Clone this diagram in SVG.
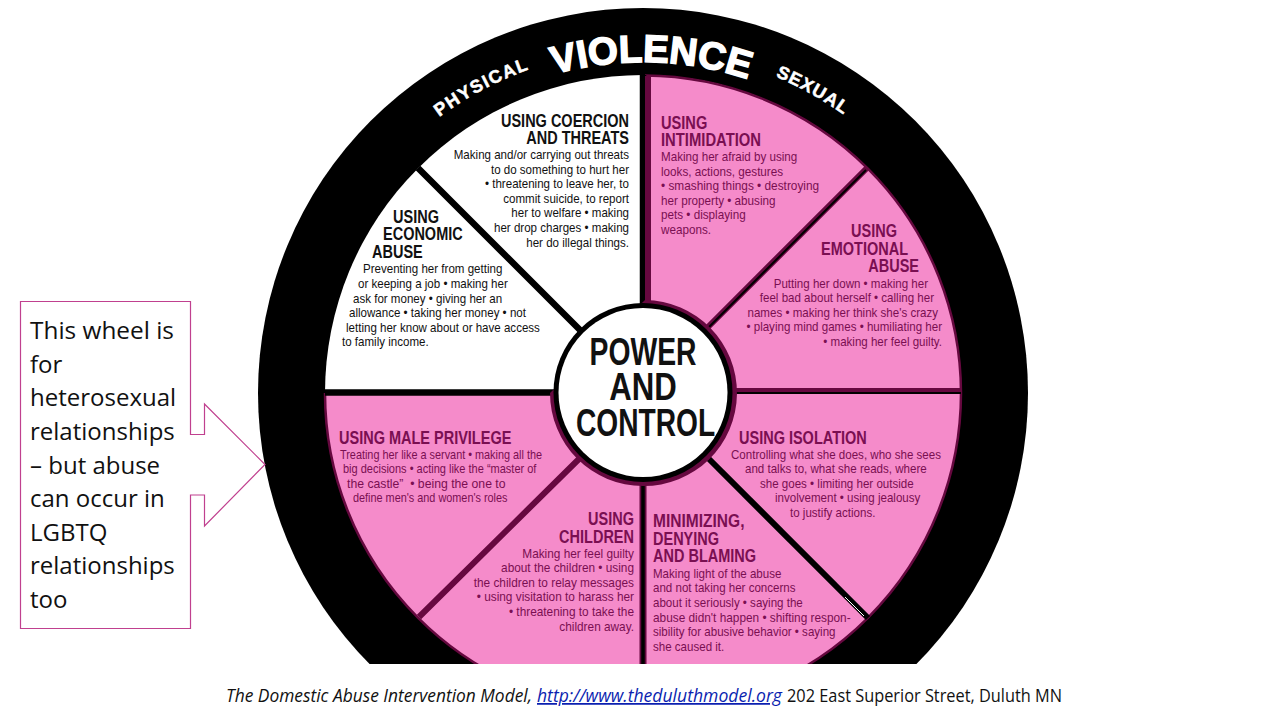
<svg xmlns="http://www.w3.org/2000/svg" width="1280" height="720" viewBox="0 0 1280 720">
<style>
.h{font-family:"Liberation Sans",Arial,sans-serif;font-weight:700;font-size:18.5px}
.b{font-family:"Liberation Sans",Arial,sans-serif;font-size:13.6px}
.p{fill:#7a0f52}.k{fill:#111}
.e{text-anchor:end}.m{text-anchor:middle}
.w{font-family:"Liberation Sans",Arial,sans-serif;font-weight:700;fill:#fff;stroke:#fff}
.c{font-family:"Open Sans","Noto Sans",sans-serif;font-size:24px;fill:#111}
.cap{font-family:"Open Sans","Noto Sans",sans-serif;font-size:17.5px;fill:#111}
.s1{stroke:#66083f;fill:none}
</style>
<defs>
<path id="arcV" d="M312 393A331 331 0 0 1 974 393"/>
<path id="arcS" d="M300 393A343 343 0 0 1 986 393"/>
</defs>
<rect width="1280" height="720" fill="#fff"/>
<g id="wheel">
<circle cx="643" cy="393" r="385" fill="#000"/>
<circle cx="643" cy="393" r="318" fill="#fff"/>
<path d="M643 393V75A318 318 0 0 1 961 393A318 318 0 0 1 643 711A318 318 0 0 1 325 393Z" fill="#f58bca"/>
<path d="M645 75.500A318 318 0 0 1 961 393A318 318 0 0 1 643 711A318 318 0 0 1 325 393" fill="none" stroke="#66083f" stroke-width="2.500"/>
<text class="w m" font-size="38.500" stroke-width="1.500"><textPath href="#arcV" startOffset="50.800%">VIOLENCE</textPath></text>
<text class="w m" font-size="18" stroke-width=".5"><textPath href="#arcS" startOffset="372" letter-spacing="1.500">PHYSICAL</textPath></text>
<text class="w m" font-size="18" stroke-width=".5"><textPath href="#arcS" startOffset="714" letter-spacing="1">SEXUAL</textPath></text>
</g>
<g id="connectors" fill="none">
<path d="M643 75V310M325 392.500H560M418 168L580 330" stroke="#000" stroke-width="6.500"/>
<path d="M648 76V306M961 391H730M867 168L705 330M419 617L582 456" class="s1" stroke-width="6"/>
<path d="M707 329L866 170M730 393H961" stroke="#000" stroke-width="2"/>
<path d="M643 480V664" stroke="#66083f" stroke-width="7"/>
<path d="M643 480V664" stroke="#000" stroke-width="3.500"/>
<path d="M706 456L868 618" stroke="#000" stroke-width="6"/>
<path d="M845 597L864 616" stroke="#fff" stroke-width="1"/>
</g>
<g id="hub">
<path d="M645 300A93 93 0 0 1 643 486A93 93 0 0 1 550 393" fill="#66083f"/>
<circle cx="643" cy="392.500" r="89.500" fill="#000"/>
<circle cx="643" cy="392.500" r="84.500" fill="#fff"/>
<g class="h m" style="font-size:39px;fill:#111"><text transform="translate(643 365) scale(.726 1)">POWER</text><text transform="translate(643 400) scale(.8 1)">AND</text><text transform="translate(645.500 436) scale(.722 1)">CONTROL</text></g>
</g>
<g id="coercion" class="e k">
<g class="h"><text transform="translate(629 127) scale(.784 1)">USING COERCION</text><text transform="translate(629 144) scale(.784 1)">AND THREATS</text></g>
<g class="b"><text transform="translate(629 159) scale(.85 1)">Making and/or carrying out threats</text><text transform="translate(629 174) scale(.85 1)">to do something to hurt her</text><text transform="translate(629 188) scale(.85 1)">• threatening to leave her, to</text><text transform="translate(629 203) scale(.85 1)">commit suicide, to report</text><text transform="translate(629 217) scale(.85 1)">her to welfare • making</text><text transform="translate(629 232) scale(.85 1)">her drop charges • making</text><text transform="translate(629 247) scale(.85 1)">her do illegal things.</text></g>
</g>
<g id="economic" class="k">
<g class="h"><text transform="translate(393 223) scale(.784 1)">USING</text><text transform="translate(383 240) scale(.784 1)">ECONOMIC</text><text transform="translate(372 258) scale(.784 1)">ABUSE</text></g>
<g class="b"><text transform="translate(363 273) scale(.85 1)">Preventing her from getting</text><text transform="translate(358 288) scale(.85 1)">or keeping a job • making her</text><text transform="translate(353 303) scale(.85 1)">ask for money • giving her an</text><text transform="translate(349 317) scale(.85 1)">allowance • taking her money • not</text><text transform="translate(346 332) scale(.85 1)">letting her know about or have access</text><text transform="translate(342 346) scale(.85 1)">to family income.</text></g>
</g>
<g id="intimidation" class="p">
<g class="h"><text transform="translate(661 129) scale(.79 1)">USING</text><text transform="translate(661 146) scale(.8 1)">INTIMIDATION</text></g>
<g class="b"><text transform="translate(661 161) scale(.855 1)">Making her afraid by using</text><text transform="translate(661 176) scale(.86 1)">looks, actions, gestures</text><text transform="translate(661 190) scale(.87 1)">• smashing things • destroying</text><text transform="translate(661 205) scale(.86 1)">her property • abusing</text><text transform="translate(661 219) scale(.86 1)">pets • displaying</text><text transform="translate(661 234) scale(.86 1)">weapons.</text></g>
</g>
<g id="emotional" class="p e">
<g class="h"><text transform="translate(897 237) scale(.784 1)">USING</text><text transform="translate(908 255) scale(.784 1)">EMOTIONAL</text><text transform="translate(919 272) scale(.784 1)">ABUSE</text></g>
<g class="b"><text transform="translate(928 288) scale(.85 1)">Putting her down • making her</text><text transform="translate(934 302) scale(.85 1)">feel bad about herself • calling her</text><text transform="translate(938 317) scale(.85 1)">names • making her think she's crazy</text><text transform="translate(942 331) scale(.85 1)">• playing mind games • humiliating her</text><text transform="translate(942 346) scale(.85 1)">• making her feel guilty.</text></g>
</g>
<g id="isolation" class="p">
<text class="h" transform="translate(739 444) scale(.784 1)">USING ISOLATION</text>
<g class="b"><text transform="translate(731 459) scale(.85 1)">Controlling what she does, who she sees</text><text transform="translate(745 473) scale(.85 1)">and talks to, what she reads, where</text><text transform="translate(760 488) scale(.85 1)">she goes • limiting her outside</text><text transform="translate(775 502) scale(.85 1)">involvement • using jealousy</text><text transform="translate(790 517) scale(.85 1)">to justify actions.</text></g>
</g>
<g id="minimizing" class="p">
<g class="h"><text transform="translate(653 527) scale(.84 1)">MINIMIZING,</text><text transform="translate(653 545) scale(.784 1)">DENYING</text><text transform="translate(653 562) scale(.784 1)">AND BLAMING</text></g>
<g class="b"><text transform="translate(653 578) scale(.85 1)">Making light of the abuse</text><text transform="translate(653 592) scale(.85 1)">and not taking her concerns</text><text transform="translate(653 607) scale(.85 1)">about it seriously • saying the</text><text transform="translate(653 622) scale(.87 1)">abuse didn't happen • shifting respon-</text><text transform="translate(653 636) scale(.85 1)">sibility for abusive behavior • saying</text><text transform="translate(653 651) scale(.85 1)">she caused it.</text></g>
</g>
<g id="children" class="p e">
<g class="h"><text transform="translate(634 525) scale(.784 1)">USING</text><text transform="translate(634 543) scale(.784 1)">CHILDREN</text></g>
<g class="b"><text transform="translate(634 558) scale(.87 1)">Making her feel guilty</text><text transform="translate(634 572) scale(.87 1)">about the children • using</text><text transform="translate(634 587) scale(.87 1)">the children to relay messages</text><text transform="translate(634 601) scale(.87 1)">• using visitation to harass her</text><text transform="translate(634 616) scale(.87 1)">• threatening to take the</text><text transform="translate(634 631) scale(.87 1)">children away.</text></g>
</g>
<g id="privilege" class="p">
<text class="h" transform="translate(339 444) scale(.784 1)">USING MALE PRIVILEGE</text>
<g class="b"><text transform="translate(340 459) scale(.8 1)">Treating her like a servant • making all the</text><text transform="translate(343 473) scale(.81 1)">big decisions • acting like the “master of</text><text transform="translate(347 488) scale(.9 1)">the castle”&#160;&#160;• being the one to</text><text transform="translate(353 502) scale(.8 1)">define men's and women's roles</text></g>
</g>
<rect x="0" y="664" width="1280" height="56" fill="#fff"/>
<g id="callout">
<path d="M20.500 301.500H190.500V434.500H204.500V404L265 464.500L204.500 526V495H190.500V628.500H20.500Z" fill="#fff" stroke="#c0408f" stroke-width="1.200"/>
<g class="c"><text x="30" y="339" textLength="144" lengthAdjust="spacingAndGlyphs">This wheel is</text><text x="30" y="373">for</text><text x="30" y="406">heterosexual</text><text x="30" y="440">relationships</text><text x="30" y="474">– but abuse</text><text x="30" y="507">can occur in</text><text x="30" y="541">LGBTQ</text><text x="30" y="574">relationships</text><text x="30" y="608">too</text></g>
</g>
<g id="caption" class="cap">
<text x="226" y="702" font-style="italic" textLength="306" lengthAdjust="spacingAndGlyphs">The Domestic Abuse Intervention Model,</text>
<text x="537" y="702" font-style="italic" style="fill:#0b1fb0" text-decoration="underline" textLength="245" lengthAdjust="spacingAndGlyphs">http://www.theduluthmodel.org</text>
<text x="787" y="702" textLength="275" lengthAdjust="spacingAndGlyphs">202 East Superior Street, Duluth MN</text>
</g>
</svg>
